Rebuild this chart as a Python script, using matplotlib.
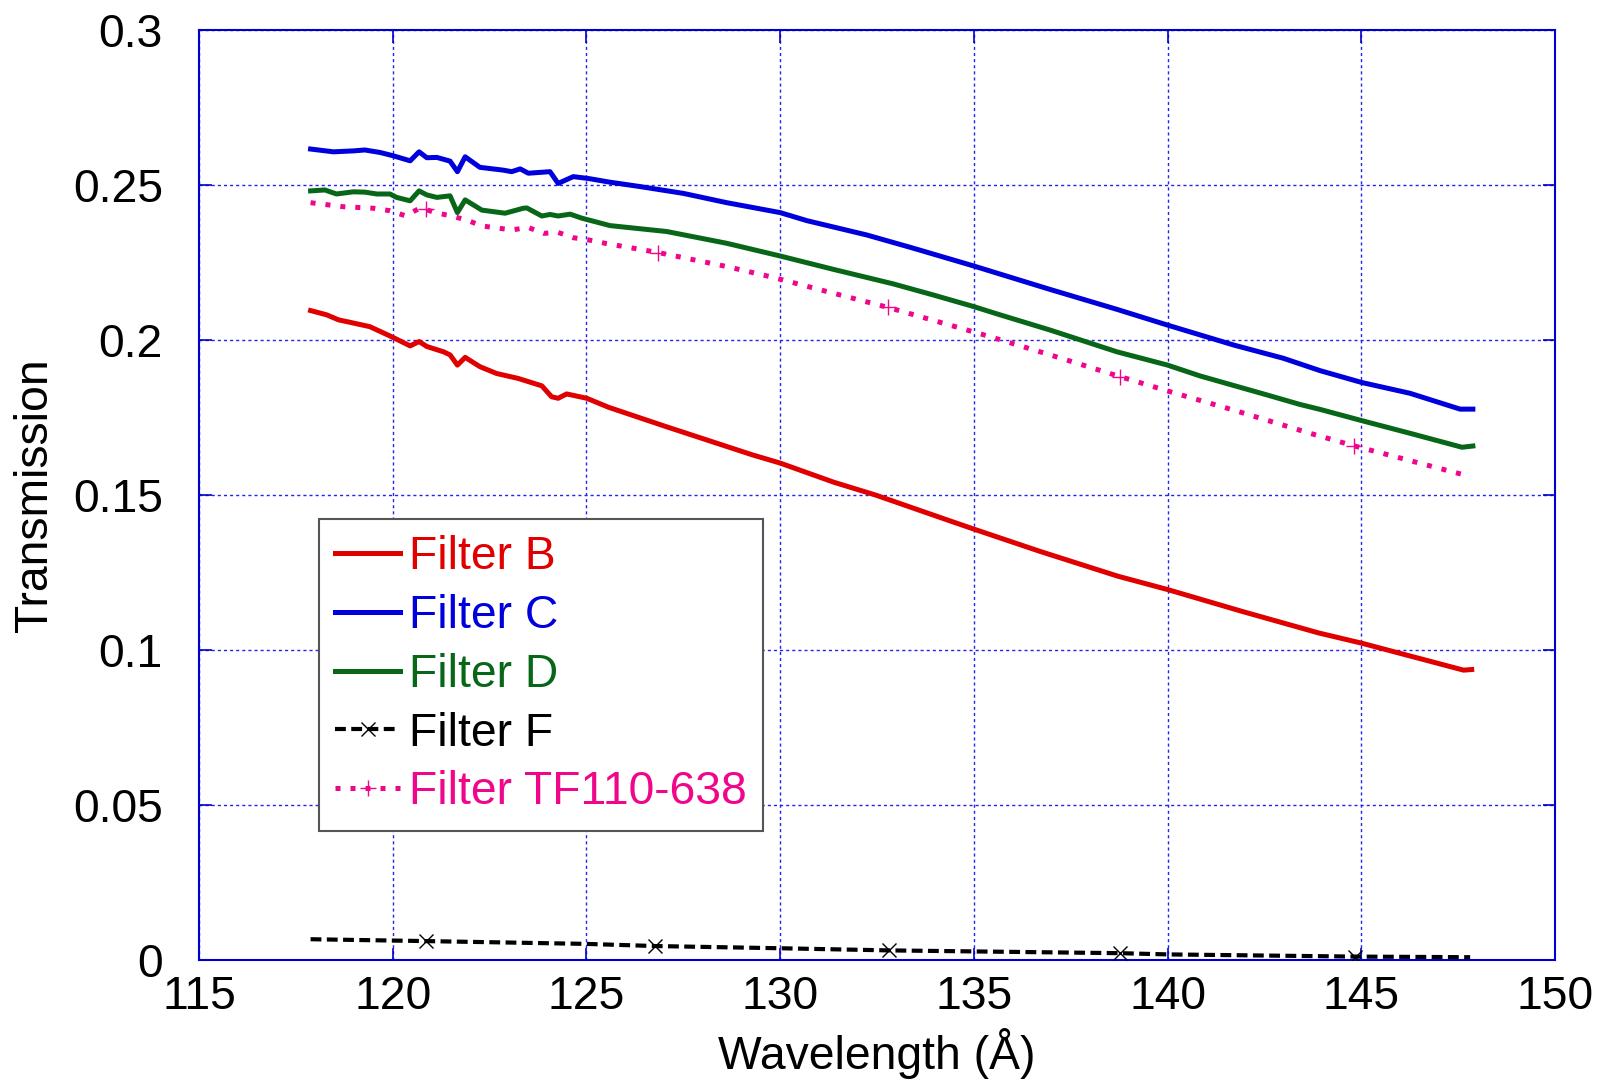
import matplotlib
matplotlib.use("Agg")
import matplotlib.pyplot as plt

plt.rcParams['font.family'] = ['Liberation Sans', 'DejaVu Sans']

# Filter B (red)
b_wl = [117.88, 118.30, 118.60, 118.90, 119.41, 119.93, 120.45, 120.68, 120.88, 121.31,
        121.48, 121.67, 121.87, 122.25, 122.68, 123.24, 123.85, 124.10, 124.27, 124.49,
        125.01, 125.57, 127.07, 129.27, 130.00, 131.39, 132.46, 134.35, 135.00, 136.71,
        138.72, 140.00, 141.91, 143.90, 145.01, 147.64, 147.85]
b_tr = [0.2095, 0.2081, 0.2065, 0.2057, 0.2043, 0.2013, 0.1981, 0.1995, 0.1979, 0.1962,
        0.1952, 0.1919, 0.1944, 0.1914, 0.1892, 0.1876, 0.1852, 0.1817, 0.1812, 0.1826,
        0.1812, 0.1783, 0.1720, 0.1630, 0.1603, 0.1541, 0.1500, 0.1418, 0.1390, 0.1318,
        0.1238, 0.1195, 0.1125, 0.1055, 0.1022, 0.0935, 0.0937]

# Filter C (blue)
c_wl = [117.88, 118.47, 118.98, 119.28, 119.67, 120.02, 120.45, 120.68, 120.88, 121.14,
        121.48, 121.67, 121.87, 122.25, 122.85, 123.07, 123.29, 123.50, 124.06, 124.27,
        124.66, 125.05, 125.61, 126.38, 127.50, 128.62, 130.00, 130.69, 132.23, 133.44,
        134.99, 136.97, 138.69, 140.00, 141.70, 142.99, 143.94, 145.01, 146.26, 147.55,
        147.88]
c_tr = [0.2616, 0.2607, 0.2610, 0.2613, 0.2605, 0.2594, 0.2578, 0.2607, 0.2588, 0.2589,
        0.2577, 0.2543, 0.2591, 0.2557, 0.2548, 0.2543, 0.2552, 0.2538, 0.2543, 0.2505,
        0.2527, 0.2521, 0.2509, 0.2495, 0.2473, 0.2443, 0.2411, 0.2385, 0.2339, 0.2296,
        0.2239, 0.2163, 0.2099, 0.2048, 0.1984, 0.1941, 0.1901, 0.1863, 0.1828, 0.1777,
        0.1777]

# Filter D (green)
d_wl = [117.88, 118.25, 118.55, 118.98, 119.28, 119.59, 119.93, 120.10, 120.45, 120.68,
        120.88, 121.14, 121.48, 121.67, 121.87, 122.30, 122.90, 123.37, 123.46, 123.85,
        124.06, 124.27, 124.58, 124.88, 125.61, 127.07, 128.62, 130.00, 131.37, 132.92,
        133.96, 134.99, 135.68, 136.97, 138.69, 140.00, 140.84, 142.56, 143.42, 143.94,
        145.01, 146.26, 147.60, 147.88]
d_tr = [0.2481, 0.2484, 0.2471, 0.2478, 0.2477, 0.2471, 0.2471, 0.2460, 0.2449, 0.2481,
        0.2468, 0.2460, 0.2465, 0.2411, 0.2452, 0.2419, 0.2409, 0.2425, 0.2426, 0.2400,
        0.2405, 0.2400, 0.2406, 0.2393, 0.2369, 0.2350, 0.2312, 0.2271, 0.2228, 0.2181,
        0.2145, 0.2108, 0.2081, 0.2032, 0.1962, 0.1919, 0.1884, 0.1823, 0.1792, 0.1776,
        0.1740, 0.1699, 0.1654, 0.1658]

# Filter F (black, dashed)
f_wl = [117.88, 120.86, 124.98, 126.78, 129.96, 132.80, 138.77, 140.02, 144.84, 147.81]
f_tr = [0.0067, 0.0061, 0.0052, 0.0045, 0.0038, 0.0031, 0.0022, 0.0018, 0.0011, 0.0009]
f_marks = [1, 3, 5, 6, 8]

# Filter TF110-638 (magenta, dotted)
tf_wl = [117.88, 118.72, 119.50, 119.93, 120.32, 120.70, 120.86, 121.09, 121.48, 121.91,
         122.30, 123.07, 123.50, 123.89, 124.27, 124.66, 125.05, 125.48, 126.86, 128.62,
         129.82, 131.37, 132.79, 134.13, 135.33, 136.97, 138.77, 140.07, 141.70, 143.68,
         144.80, 147.65]
tf_tr = [0.2443, 0.2430, 0.2425, 0.2417, 0.2401, 0.2425, 0.2421, 0.2411, 0.2401, 0.2387,
         0.2368, 0.2355, 0.2363, 0.2344, 0.2347, 0.2330, 0.2323, 0.2312, 0.2282, 0.2237,
         0.2202, 0.2151, 0.2105, 0.2057, 0.2014, 0.1952, 0.1882, 0.1833, 0.1774, 0.1699,
         0.1659, 0.1565]
tf_marks = [6, 18, 22, 26, 30]

x_ticks = [115, 120, 125, 130, 135, 140, 145, 150]
y_ticks = [0, 0.05, 0.1, 0.15, 0.2, 0.25, 0.3]
y_tick_labels = ['0', '0.05', '0.1', '0.15', '0.2', '0.25', '0.3']

RED = '#e00000'
BLUE = '#0000dd'
GREEN = '#086618'
PINK = '#f0068a'
AXBLUE = '#0000cc'
FS = 33.3

fig = plt.figure(figsize=(16.08, 10.87), dpi=100)
ax = fig.add_axes([199 / 1608, 1 - 960 / 1087, (1555 - 199) / 1608, (960 - 30) / 1087])

lw = 3.6
ax.plot(b_wl, b_tr, color=RED, lw=lw, label='Filter B', zorder=3)
ax.plot(c_wl, c_tr, color=BLUE, lw=lw, label='Filter C', zorder=3)
ax.plot(d_wl, d_tr, color=GREEN, lw=lw, label='Filter D', zorder=3)
ax.plot(f_wl, f_tr, color='black', lw=3.0, linestyle=(0, (2.6, 1.3)),
        marker='x', markersize=10, markeredgewidth=1.0, markevery=f_marks,
        label='Filter F', zorder=3)
ax.plot(tf_wl, tf_tr, color=PINK, lw=3.6, linestyle=(0, (1, 2)),
        marker='+', markersize=11, markeredgewidth=1.0, markevery=tf_marks,
        label='Filter TF110-638', zorder=3)

ax.set_xlim(115, 150)
ax.set_ylim(0, 0.3)
ax.set_xticks(x_ticks)
ax.set_yticks(y_ticks)
ax.set_yticklabels(y_tick_labels)

ax.grid(True, color='#2222ee', lw=1.0, linestyle=(0, (2.2, 2.2)), zorder=0)
ax.set_axisbelow(True)

for s in ax.spines.values():
    s.set_color(AXBLUE)
    s.set_linewidth(1.5)

ax.tick_params(axis='both', which='major', direction='in', length=9, width=1.2,
               color=AXBLUE, top=True, right=True, labelsize=FS, labelcolor='black')
ax.tick_params(axis='x', pad=11)
ax.tick_params(axis='y', pad=26)

ax.set_xlabel('Wavelength (Å)', fontsize=FS, labelpad=6)
ax.set_ylabel('Transmission', fontsize=FS, labelpad=11)

leg = ax.legend(loc='upper left', bbox_to_anchor=((319 - 199) / 1356, (960 - 519) / 930),
                borderaxespad=0, fontsize=FS, handlelength=1.4, handletextpad=0.2,
                borderpad=0.35, labelspacing=0.32, numpoints=1, fancybox=False,
                framealpha=1, edgecolor='#555555', labelcolor='linecolor')
leg.get_frame().set_linewidth(1.5)

fig.savefig('out.png', dpi=100)
